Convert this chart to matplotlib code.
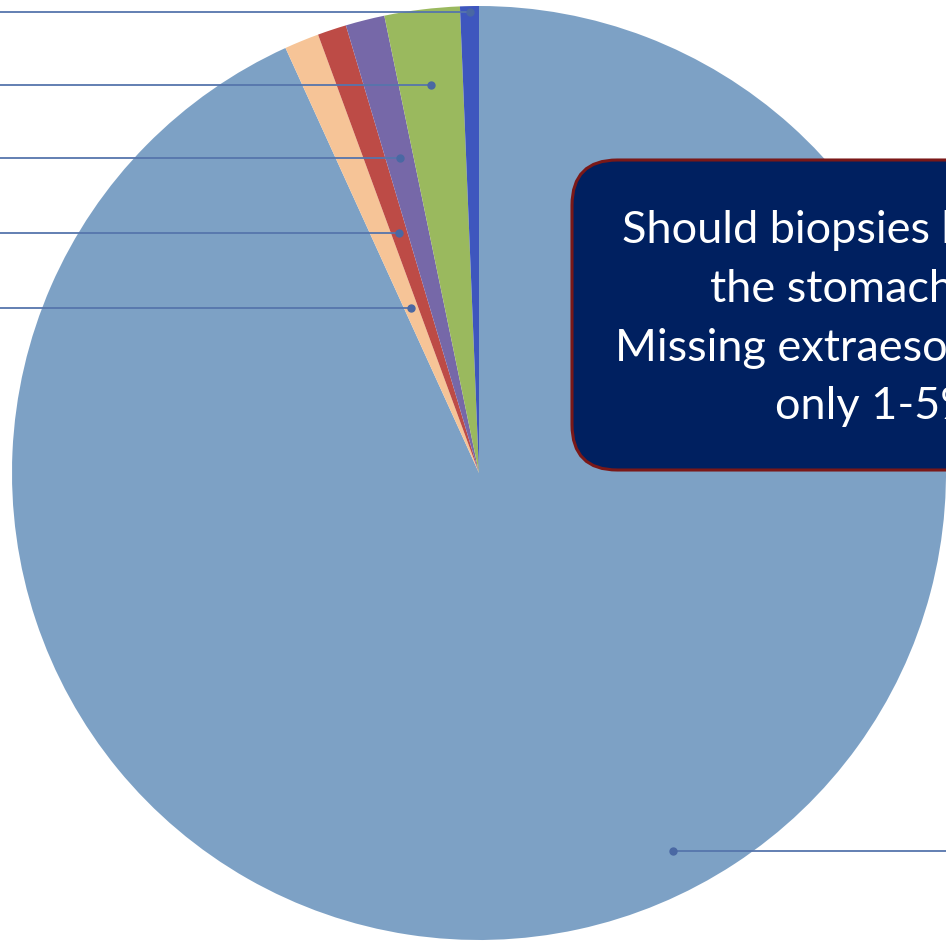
import numpy as np
import matplotlib
matplotlib.use("Agg")
import matplotlib.pyplot as plt
from matplotlib.patches import FancyBboxPatch

# ---- data (clockwise from 12 o'clock, Excel order) ----
categories = ["Normal", "Slice E", "Slice D", "Slice C", "Slice B", "Slice A"]
values = [93.2, 1.2, 1.0, 1.35, 2.6, 0.65]
colors = ["#7DA1C5", "#F6C497", "#BD4B46", "#7668A8", "#9AB95E", "#3E56BE"]

callout_lines = ["Should biopsies be taken of",
                 "the stomach too?",
                 "Missing extraesophageal",
                 "only 1-5%"]

W, H = 946, 947
DPI = 100
fig = plt.figure(figsize=(W / DPI, H / DPI), dpi=DPI)
ax = fig.add_axes([0, 0, 1, 1])

# pixel geometry of the pie (center / radius)
cx, cy, R = 479.0, 473.0, 467.0

def px(x, y):
    return (x - cx) / R, (cy - y) / R

wedges, _ = ax.pie(values, colors=colors, startangle=90, counterclock=False,
                   radius=1.0, center=(0, 0), frame=True,
                   wedgeprops=dict(linewidth=0))
ax.set_xlim(-cx / R, (W - cx) / R)
ax.set_ylim((cy - H) / R, cy / R)
ax.set_aspect("auto")
ax.axis("off")

# ---- leader lines ----
line_col = "#5675AC"
rows_y = {5: 0.987, 4: 0.831, 3: 0.675, 2: 0.514, 1: 0.353}
for i, y in rows_y.items():
    w = wedges[i]
    mid = np.deg2rad((w.theta1 + w.theta2) / 2)
    x = y / np.tan(mid)
    ax.plot([-1.2, x], [y, y], color=line_col, lw=1.3, solid_capstyle="butt",
            clip_on=False, zorder=3)
    ax.plot([x], [y], "o", color="#4A68A3", ms=5, zorder=4)

# big slice leader
ang = np.deg2rad(-62.8)
bx, by = 0.91 * np.cos(ang), 0.91 * np.sin(ang)
ax.plot([bx, 1.3], [by, by], color=line_col, lw=1.3, clip_on=False, zorder=3)
ax.plot([bx], [by], "o", color="#4A68A3", ms=5, zorder=4)

# ---- callout box ----
x0, ytop = px(572, 160)
x1, ybot = px(1250, 470)
box = FancyBboxPatch((x0, ybot), x1 - x0, ytop - ybot,
                     boxstyle="round,pad=0,rounding_size=0.097",
                     facecolor="#002060", edgecolor="#7A1818", linewidth=2.2,
                     zorder=5, clip_on=False)
ax.add_patch(box)

starts = [622, 710, 615, 775]
baselines = [243, 302, 361, 419]
for txt, s, b in zip(callout_lines, starts, baselines):
    ax.text((s - cx) / R, (cy - b) / R, txt, color="white", fontsize=32.5,
            family="Lato", ha="left", va="baseline", zorder=6)

fig.savefig("out.png", dpi=DPI)
